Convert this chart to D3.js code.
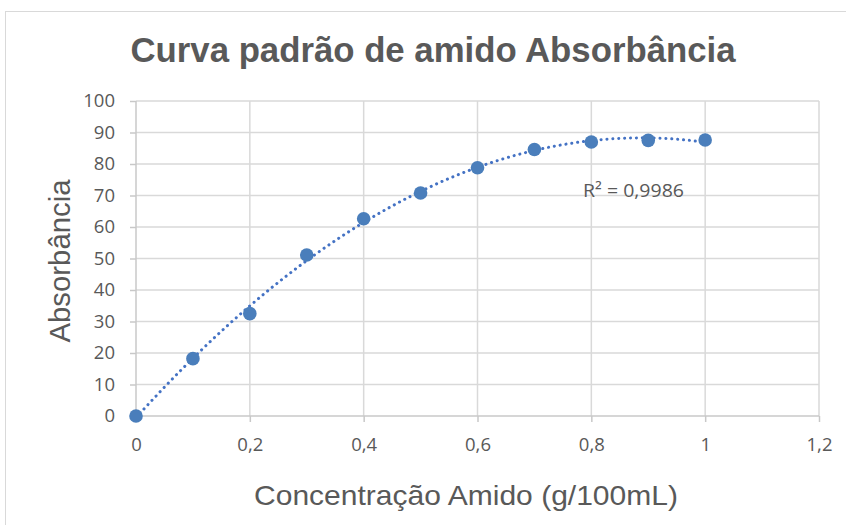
<!DOCTYPE html>
<html>
<head>
<meta charset="utf-8">
<script src="https://cdn.jsdelivr.net/npm/d3@7"></script>
<style>
  html, body { margin: 0; padding: 0; background: #ffffff; }
  svg { display: block; }
</style>
</head>
<body>
<svg id="chart" width="846" height="525"></svg>
<script>
// Standard curve data: starch concentration (g/100mL) vs absorbance
const concentration = [0, 0.1, 0.2, 0.3, 0.4, 0.5, 0.6, 0.7, 0.8, 0.9, 1.0];
const absorbance    = [0, 18.2, 32.5, 51.1, 62.6, 70.8, 78.8, 84.6, 87.0, 87.5, 87.6];
const xTicks = [0, 0.2, 0.4, 0.6, 0.8, 1.0, 1.2];
const yTicks = [0, 10, 20, 30, 40, 50, 60, 70, 80, 90, 100];
const titleText = "Curva padrão de amido Absorbância";
const xLabelText = "Concentração Amido (g/100mL)";
const yLabelText = "Absorbância";
const r2Text = "R² = 0,9986";

const svg = d3.select("#chart");
const plot = { left: 136, right: 819, top: 101, bottom: 416 };

const x = d3.scaleLinear().domain([0, 1.2]).range([plot.left, plot.right]);
const y = d3.scaleLinear().domain([0, 100]).range([plot.bottom, plot.top]);

const grid = "#d9d9d9";
const textColor = "#595959";
const markColor = "#4a7ebb";
const fmt = d => String(d).replace(".", ",");

// chart frame
svg.append("rect")
  .attr("x", 5.5).attr("y", 11.5)
  .attr("width", 900).attr("height", 600)
  .attr("fill", "none").attr("stroke", grid).attr("stroke-width", 1);

// title
svg.append("text")
  .attr("x", 433).attr("y", 62)
  .attr("text-anchor", "middle")
  .attr("font-family", "Liberation Sans, Arial, sans-serif")
  .attr("font-weight", "bold")
  .attr("font-size", 35)
  .attr("fill", textColor)
  .attr("textLength", 605).attr("lengthAdjust", "spacingAndGlyphs")
  .text(titleText);

// gridlines
const g = svg.append("g");
g.selectAll("line.h").data(yTicks.filter(d => d > 0)).enter().append("line")
  .attr("x1", plot.left).attr("x2", plot.right)
  .attr("y1", d => y(d)).attr("y2", d => y(d))
  .attr("stroke", grid).attr("stroke-width", 1.5);
g.selectAll("line.v").data(xTicks.filter(d => d > 0)).enter().append("line")
  .attr("x1", d => x(d)).attr("x2", d => x(d))
  .attr("y1", plot.top).attr("y2", plot.bottom)
  .attr("stroke", grid).attr("stroke-width", 1.5);

// axes
const xAxis = svg.append("g")
  .attr("transform", `translate(0,${plot.bottom})`)
  .call(d3.axisBottom(x).tickValues(xTicks).tickFormat(fmt).tickSize(6).tickPadding(16));
const yAxis = svg.append("g")
  .attr("transform", `translate(${plot.left},0)`)
  .call(d3.axisLeft(y).tickValues(yTicks).tickFormat(fmt).tickSize(6).tickPadding(15));

[xAxis, yAxis].forEach(ax => {
  ax.select(".domain").attr("stroke", "#c8c8c8").attr("stroke-width", 1.5);
  ax.selectAll(".tick line").attr("stroke", "#c8c8c8").attr("stroke-width", 1.5);
  ax.selectAll(".tick text")
    .attr("fill", textColor)
    .attr("font-family", "Open Sans, sans-serif")
    .attr("font-size", 18.5);
});
xAxis.select(".domain").attr("d", `M${plot.left},0H${plot.right}`);
yAxis.select(".domain").attr("d", `M0,${plot.bottom}V${plot.top}`);

// quadratic least-squares trendline
function polyFit(xs, ys, order) {
  const n = order + 1;
  const A = Array.from({ length: n }, () => new Array(n + 1).fill(0));
  xs.forEach((xi, k) => {
    for (let i = 0; i < n; i++) {
      for (let j = 0; j < n; j++) A[i][j] += Math.pow(xi, i + j);
      A[i][n] += ys[k] * Math.pow(xi, i);
    }
  });
  for (let i = 0; i < n; i++) {
    let p = i;
    for (let r = i + 1; r < n; r++) if (Math.abs(A[r][i]) > Math.abs(A[p][i])) p = r;
    [A[i], A[p]] = [A[p], A[i]];
    for (let r = 0; r < n; r++) {
      if (r === i) continue;
      const f = A[r][i] / A[i][i];
      for (let c = i; c <= n; c++) A[r][c] -= f * A[i][c];
    }
  }
  return A.map((row, i) => row[n] / row[i]);
}
const coef = polyFit(concentration, absorbance, 2);
const trend = d3.range(0, 1.0001, 0.01).map(t => [t, coef[0] + coef[1] * t + coef[2] * t * t]);

svg.append("path")
  .datum(trend)
  .attr("d", d3.line().x(d => x(d[0])).y(d => y(d[1])).curve(d3.curveLinear))
  .attr("fill", "none")
  .attr("stroke", "#4472c4")
  .attr("stroke-width", 3)
  .attr("stroke-linecap", "round")
  .attr("stroke-dasharray", "0.1 5.8");

// data markers
svg.selectAll("circle.pt").data(concentration).enter().append("circle")
  .attr("cx", d => x(d))
  .attr("cy", (d, i) => y(absorbance[i]))
  .attr("r", 6.8)
  .attr("fill", markColor);

// R² label
svg.append("text")
  .attr("x", 583).attr("y", 197)
  .attr("font-family", "Open Sans, sans-serif")
  .attr("font-size", 18.5)
  .attr("fill", textColor)
  .attr("textLength", 101).attr("lengthAdjust", "spacingAndGlyphs")
  .text(r2Text);

// axis titles
svg.append("text")
  .attr("x", 466).attr("y", 505)
  .attr("text-anchor", "middle")
  .attr("font-family", "Liberation Sans, Arial, sans-serif")
  .attr("font-size", 28)
  .attr("fill", textColor)
  .attr("textLength", 424).attr("lengthAdjust", "spacingAndGlyphs")
  .text(xLabelText);

svg.append("text")
  .attr("transform", "translate(70,261) rotate(-90)")
  .attr("text-anchor", "middle")
  .attr("font-family", "Liberation Sans, Arial, sans-serif")
  .attr("font-size", 29)
  .attr("fill", textColor)
  .attr("textLength", 163).attr("lengthAdjust", "spacingAndGlyphs")
  .text(yLabelText);
</script>
</body>
</html>
